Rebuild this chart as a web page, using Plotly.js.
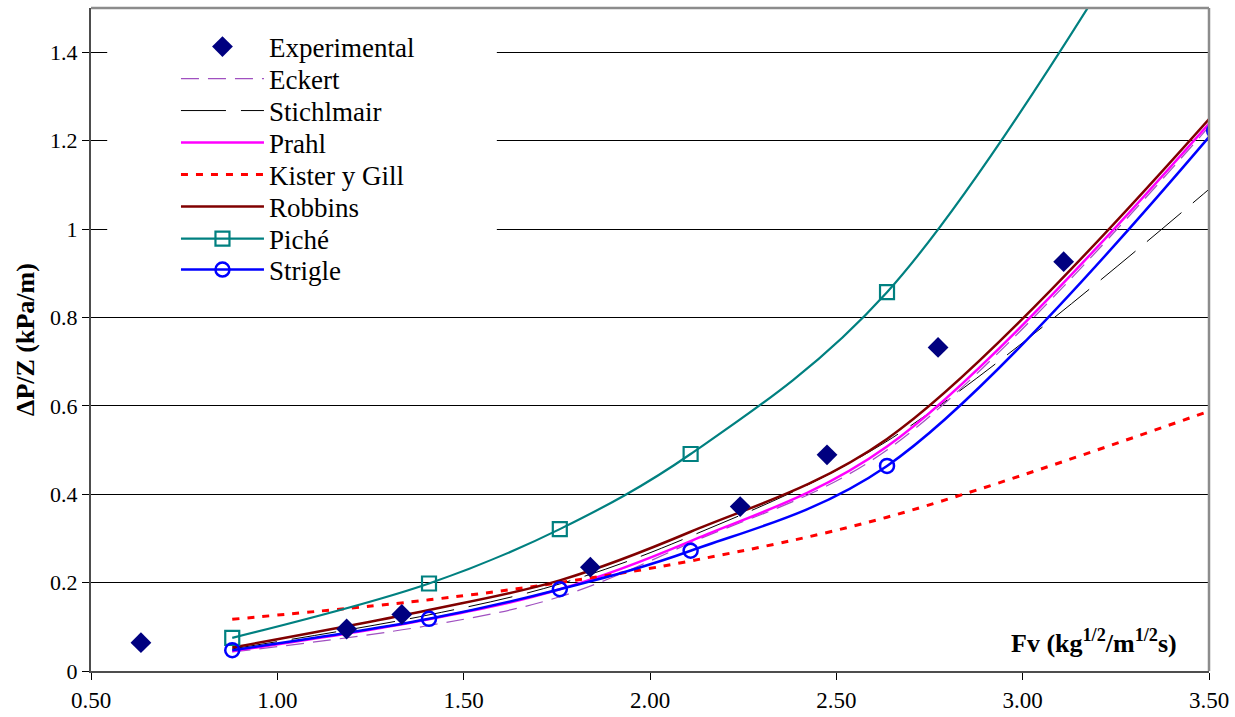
<!DOCTYPE html>
<html>
<head>
<meta charset="utf-8">
<script src="https://cdn.plot.ly/plotly-3.0.1.min.js"></script>
<style>
  html, body { margin: 0; padding: 0; background: #ffffff; }
  #chart { width: 1235px; height: 717px; }
</style>
</head>
<body>
<div id="chart"></div>
<script>
// Experimental data
const fvExp = [0.634, 1.186, 1.334, 1.840, 2.242, 2.475, 2.773, 3.110];
const dpExp = [0.064, 0.095, 0.128, 0.235, 0.372, 0.489, 0.732, 0.926];

// Model predictions (common Fv points)
const fvModel = [0.879, 1.407, 1.758, 2.109, 2.636, 3.514];
const eckert     = [0.043, 0.103, 0.168, 0.290, 0.500, 1.245];
const stichlmair = [0.050, 0.127, 0.197, 0.305, 0.520, 1.100];
const prahl      = [0.045, 0.117, 0.185, 0.294, 0.508, 1.252];
const kister     = [0.117, 0.161, 0.200, 0.249, 0.348, 0.592];
const robbins    = [0.053, 0.138, 0.205, 0.315, 0.525, 1.262];
const piche      = [0.075, 0.198, 0.321, 0.491, 0.857, 1.970];
const strigle    = [0.047, 0.118, 0.185, 0.272, 0.464, 1.222];

const seriesNames = ["Experimental", "Eckert", "Stichlmair", "Prahl", "Kister y Gill", "Robbins", "Piché", "Strigle"];

const FONT = "Times New Roman, Liberation Serif, serif";

// legend layout (one legend box per entry so the row pitch matches the original)
const W = 1235, H = 717;
const M = { l: 91, r: 26, t: 8, b: 46 };
const plotH = H - M.t - M.b;
const legendRowPx = [47, 79, 111, 143, 175, 207, 239, 270];
const legendIds = ["legend", "legend2", "legend3", "legend4", "legend5", "legend6", "legend7", "legend8"];

function lineTrace(idx, y, color, width, dash, marker) {
  const t = {
    type: "scatter", mode: marker ? "lines+markers" : "lines",
    name: seriesNames[idx], x: fvModel, y: y, legend: legendIds[idx],
    line: { color: color, width: width, dash: dash, shape: "spline", smoothing: 1 },
    cliponaxis: true
  };
  if (marker) t.marker = marker;
  return t;
}

const traces = [
  lineTrace(1, eckert, "#A050C0", 1.2, "18px,9px"),
  lineTrace(2, stichlmair, "#000000", 1, "45px,15px"),
  lineTrace(3, prahl, "#FF00FF", 2.5, "solid"),
  lineTrace(4, kister, "#FF0000", 3, "7px,8px"),
  lineTrace(5, robbins, "#800000", 2.5, "solid"),
  lineTrace(6, piche, "#008080", 2.2, "solid",
    { symbol: "square-open", size: 14, color: "#008080", line: { width: 2.2, color: "#008080" } }),
  lineTrace(7, strigle, "#0000FF", 2.5, "solid",
    { symbol: "circle-open", size: 14, color: "#0000FF", line: { width: 2.5, color: "#0000FF" } }),
  {
    type: "scatter", mode: "markers", name: seriesNames[0], x: fvExp, y: dpExp, legend: legendIds[0],
    marker: { symbol: "diamond", size: 16, color: "#000080", line: { width: 0 } }
  }
];

const layout = {
  width: W, height: H,
  margin: M,
  paper_bgcolor: "#ffffff", plot_bgcolor: "#ffffff",
  font: { family: FONT, size: 18, color: "#000000" },
  showlegend: true,
  hovermode: false,
  xaxis: {
    range: [0.5, 3.5], dtick: 0.5, tick0: 0.5, tickformat: ".2f",
    showgrid: false, zeroline: false,
    showline: true, linecolor: "#4d4d4d", linewidth: 2,
    ticks: "outside", ticklen: 7, tickcolor: "#000000", tickwidth: 1,
    tickfont: { family: FONT, size: 23, color: "#000000" }
  },
  yaxis: {
    range: [0, 1.5], dtick: 0.2, tick0: 0,
    showgrid: true, gridcolor: "#000000", gridwidth: 1,
    zeroline: false,
    showline: true, linecolor: "#4d4d4d", linewidth: 2,
    ticks: "outside", ticklen: 7, tickcolor: "#000000", tickwidth: 1,
    tickfont: { family: FONT, size: 22, color: "#000000" },
    title: { text: "<b>ΔP/Z (kPa/m)</b>", font: { family: FONT, size: 26, color: "#000000" }, standoff: 8 }
  },
  shapes: [
    { type: "rect", xref: "paper", yref: "paper", x0: 0.0145, x1: 0.363, y0: 0.565, y1: 0.972,
      fillcolor: "#ffffff", line: { width: 0 }, layer: "above" },
    { type: "line", xref: "paper", yref: "paper", x0: 0, x1: 1, y0: 1, y1: 1, line: { color: "#8c8c8c", width: 2.5 } },
    { type: "line", xref: "paper", yref: "paper", x0: 1, x1: 1, y0: 0, y1: 1, line: { color: "#8c8c8c", width: 2.5 } }
  ],
  annotations: [
    {
      xref: "paper", yref: "paper", x: 0.973, y: 0.045, xanchor: "right", yanchor: "middle",
      text: "<b>Fv (kg<sup>1/2</sup>/m<sup>1/2</sup>s)</b>", showarrow: false,
      font: { family: FONT, size: 26, color: "#000000" }
    }
  ]
};

legendIds.forEach(function (id, i) {
  layout[id] = {
    x: 0.076, xanchor: "left",
    y: (H - M.b - legendRowPx[i]) / plotH, yanchor: "middle",
    bgcolor: "rgba(255,255,255,0)", borderwidth: 0,
    font: { family: FONT, size: 27, color: "#000000" },
    itemwidth: 83
  };
});

Plotly.newPlot("chart", traces, layout, { staticPlot: true, displayModeBar: false });
</script>
</body>
</html>
